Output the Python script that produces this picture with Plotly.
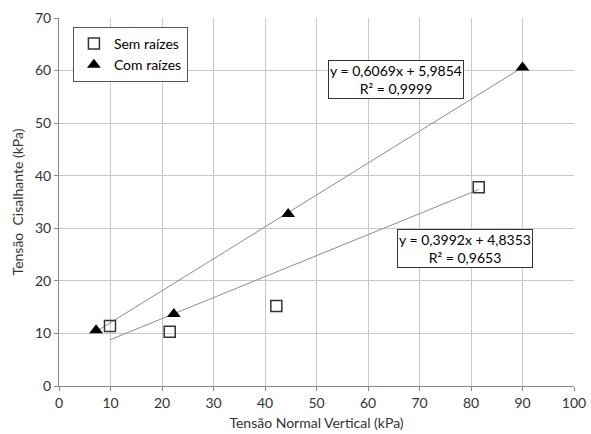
import plotly.graph_objects as go

sem_x = [9.9, 21.5, 42.2, 81.5]
sem_y = [11.4, 10.3, 15.2, 37.8]
com_x = [7.2, 22.3, 44.5, 90.0]
com_y = [10.6, 13.7, 32.7, 60.6]

sem_fit = (0.3992, 4.8353)
com_fit = (0.6069, 5.9854)

sem_eq = "y = 0,3992x + 4,8353<br>R² = 0,9653"
com_eq = "y = 0,6069x + 5,9854<br>R² = 0,9999"

x_ticks = list(range(0, 101, 10))
y_ticks = list(range(0, 71, 10))

FONT = "Lato, 'Open Sans', sans-serif"

fig = go.Figure()

def line_pts(xs, fit):
    lo, hi = min(xs), max(xs)
    return [lo, hi], [fit[0] * lo + fit[1], fit[0] * hi + fit[1]]

lx, ly = line_pts(com_x, com_fit)
fig.add_trace(go.Scatter(x=lx, y=ly, mode="lines", line=dict(color="#8c8c8c", width=1), showlegend=False, hoverinfo="skip"))
lx, ly = line_pts(sem_x, sem_fit)
fig.add_trace(go.Scatter(x=lx, y=ly, mode="lines", line=dict(color="#8c8c8c", width=1), showlegend=False, hoverinfo="skip"))

fig.add_trace(go.Scatter(x=sem_x, y=sem_y, mode="markers", name="Sem raízes",
                         marker=dict(symbol="square-open", size=11, color="#333333", line=dict(width=1.5, color="#333333"))))
fig.add_trace(go.Scatter(x=com_x, y=com_y, mode="markers", name="Com raízes",
                         marker=dict(symbol="triangle-up", size=12, color="black")))

fig.add_annotation(x=0.654, y=0.834, xref="paper", yref="paper", xanchor="center", yanchor="middle",
                   text=com_eq, showarrow=False,
                   font=dict(size=14, color="black", family=FONT), bordercolor="#333333", borderwidth=1,
                   bgcolor="white", borderpad=1, align="center")
fig.add_annotation(x=0.789, y=0.374, xref="paper", yref="paper", xanchor="center", yanchor="middle",
                   text=sem_eq, showarrow=False,
                   font=dict(size=14, color="black", family=FONT), bordercolor="#333333", borderwidth=1,
                   bgcolor="white", borderpad=1, align="center")

fig.update_layout(
    width=591, height=434,
    margin=dict(l=59, r=17, t=18, b=48),
    paper_bgcolor="white", plot_bgcolor="white",
    font=dict(family=FONT, size=14, color="#333333"),
    legend=dict(x=0.027, y=0.976, xanchor="left", yanchor="top", bordercolor="#555555", borderwidth=1,
                bgcolor="white", font=dict(size=14, color="black"), itemwidth=30, tracegroupgap=6),
    xaxis=dict(range=[0, 100], tickvals=x_ticks, showgrid=True, gridcolor="#c8c8c8", gridwidth=1,
               showline=True, linecolor="#888888", ticks="outside", ticklen=4, tickcolor="#888888",
               zeroline=False, automargin=False,
               title=dict(text="Tensão Normal Vertical (kPa)", font=dict(size=14), standoff=8)),
    yaxis=dict(range=[0, 70], tickvals=y_ticks, showgrid=True, gridcolor="#c8c8c8", gridwidth=1,
               showline=True, linecolor="#888888", ticks="outside", ticklen=4, tickcolor="#888888",
               zeroline=False, automargin=False,
               title=dict(text="Tensão  Cisalhante (kPa)", font=dict(size=14), standoff=8)),
)

fig.write_html("out.html", config={"displayModeBar": False},
               post_script="document.body.style.margin='0';")
